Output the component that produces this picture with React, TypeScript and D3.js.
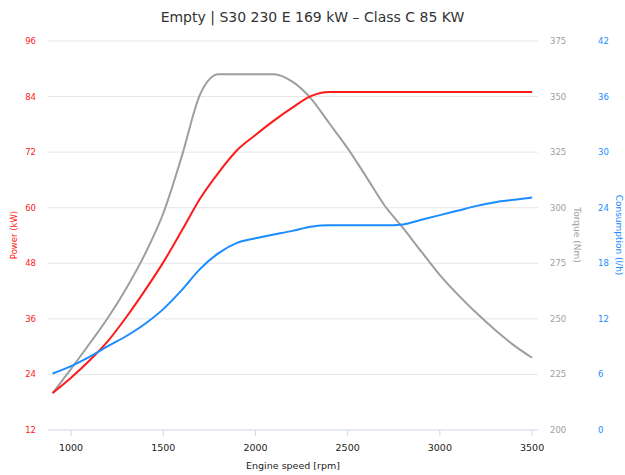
import React from "react";
import * as d3 from "d3";

const rpm = [900, 1000, 1100, 1200, 1300, 1400, 1500, 1600, 1700, 1800, 1900, 2000, 2100, 2200, 2300, 2400, 2500, 2600, 2700, 2800, 2900, 3000, 3100, 3200, 3300, 3400, 3500];
const power = [20, 23.3, 27, 31.2, 36.4, 42.1, 48.2, 55, 62, 67.6, 72.4, 75.7, 78.8, 81.6, 84.1, 85, 85, 85, 85, 85, 85, 85, 85, 85, 85, 85, 85];
const torque = [216.5, 227.5, 238.8, 250.5, 263.8, 279, 297.5, 323, 351, 360, 360, 360, 360, 356.7, 349.2, 338, 326.7, 314, 301, 290.9, 280.2, 269.7, 260.7, 252.5, 245, 238.2, 232.5];
const consumption = [6.1, 6.9, 7.9, 9.05, 10.15, 11.45, 13.05, 15.1, 17.4, 19.1, 20.2, 20.7, 21.1, 21.5, 21.95, 22.1, 22.1, 22.1, 22.1, 22.2, 22.7, 23.2, 23.7, 24.2, 24.6, 24.85, 25.1];

const xTicks = [1000, 1500, 2000, 2500, 3000, 3500];
const powerTicks = [12, 24, 36, 48, 60, 72, 84, 96];
const torqueTicks = [200, 225, 250, 275, 300, 325, 350, 375];
const consTicks = [0, 6, 12, 18, 24, 30, 36, 42];

const title = "Empty | S30 230 E 169 kW – Class C 85 KW";

const FONT = "'DejaVu Sans', sans-serif";
const RED = "#ff1a1a";
const GRAY = "#9e9e9e";
const BLUE = "#1a8cff";

export default function App() {
  const W = 625, H = 475;
  const left = 48, right = 538, top = 41, bottom = 430;
  const x = d3.scaleLinear().domain([875, 3532]).range([left, right]);
  const yP = d3.scaleLinear().domain([12, 96]).range([bottom, top]);
  const yT = d3.scaleLinear().domain([200, 375]).range([bottom, top]);
  const yC = d3.scaleLinear().domain([0, 42]).range([bottom, top]);

  const mk = (vals: number[], y: d3.ScaleLinear<number, number>) =>
    d3.line<number>().x((_, i) => x(rpm[i])).y((v) => y(v)).curve(d3.curveMonotoneX)(vals) || "";

  return (
    <svg width={W} height={H} style={{ position: "absolute", left: 0, top: 0, fontFamily: FONT }}>
      <rect width={W} height={H} fill="#fff" />
      <text x={W / 2} y={22} textAnchor="middle" fontSize={14} fill="#333">{title}</text>
      {powerTicks.map((t) => (
        <line key={"g" + t} x1={left} x2={right} y1={yP(t)} y2={yP(t)} stroke={t === 12 ? "#ccd6eb" : "#e6e6e6"} strokeWidth={1} />
      ))}
      {xTicks.map((t) => (
        <g key={"x" + t}>
          <line x1={x(t)} x2={x(t)} y1={bottom} y2={bottom + 6} stroke="#ccd6eb" />
          <text x={x(t)} y={451} textAnchor="middle" fontSize={9.5} fill="#222">{t}</text>
        </g>
      ))}
      <text x={(left + right) / 2} y={469} textAnchor="middle" fontSize={9.5} fill="#222">Engine speed [rpm]</text>
      {powerTicks.map((t) => (
        <text key={"p" + t} x={36} y={yP(t)} dy="0.35em" textAnchor="end" fontSize={8.5} fill={RED}>{t}</text>
      ))}
      <text transform={`translate(17,235) rotate(-90)`} textAnchor="middle" fontSize={8.5} fill={RED}>Power (kW)</text>
      {torqueTicks.map((t) => (
        <text key={"t" + t} x={550} y={yT(t)} dy="0.35em" textAnchor="start" fontSize={8.5} fill={GRAY}>{t}</text>
      ))}
      <text transform={`translate(574,235) rotate(90)`} textAnchor="middle" fontSize={9} fill={GRAY}>Torque (Nm)</text>
      {consTicks.map((t) => (
        <text key={"c" + t} x={598} y={yC(t)} dy="0.35em" textAnchor="start" fontSize={8.5} fill={BLUE}>{t}</text>
      ))}
      <text transform={`translate(616,235) rotate(90)`} textAnchor="middle" fontSize={9} fill={BLUE}>Consumption (l/h)</text>
      <path d={mk(torque, yT)} fill="none" stroke={GRAY} strokeWidth={2} />
      <path d={mk(power, yP)} fill="none" stroke={RED} strokeWidth={2} />
      <path d={mk(consumption, yC)} fill="none" stroke={BLUE} strokeWidth={2} />
    </svg>
  );
}
